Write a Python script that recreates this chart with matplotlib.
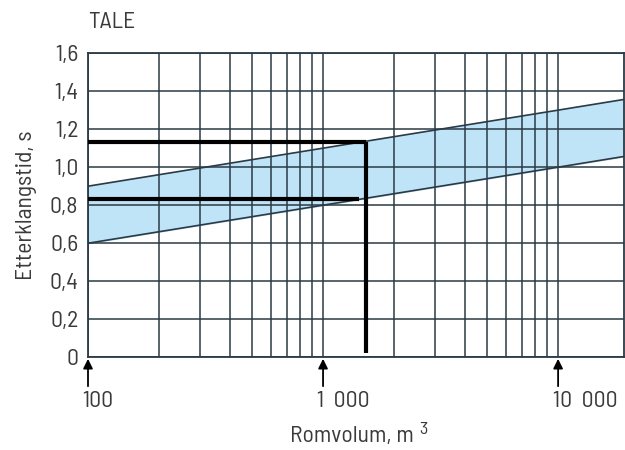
import numpy as np
import matplotlib
matplotlib.use('Agg')
import matplotlib.pyplot as plt
from matplotlib.ticker import FixedLocator, NullFormatter

plt.rcParams['font.family'] = ['Barlow Semi Condensed', 'DejaVu Sans']

# band limits (reverberation time, s) against room volume (m3)
band_volume = [100, 1000, 10000, 19000]
band_lower = [0.6, 0.8, 1.0, 1.056]
band_upper = [0.9, 1.1, 1.3, 1.356]

# hand-drawn reading lines
read_upper_x = [100, 1520]
read_upper_y = [1.13, 1.13]
read_lower_x = [100, 1420]
read_lower_y = [0.83, 0.83]
read_vert_x = [1520, 1520]
read_vert_y = [1.13, 0.02]

x_labels = ['100', '1  000', '10  000']
x_label_pos = [100, 1000, 10000]
y_ticks = [0, 0.2, 0.4, 0.6, 0.8, 1.0, 1.2, 1.4, 1.6]
y_labels = ['0', '0,2', '0,4', '0,6', '0,8', '1,0', '1,2', '1,4', '1,6']

grid_col = '#2b3a44'
text_col = '#3a3a3a'
fsize = 17

fig = plt.figure(figsize=(6.25, 4.5), dpi=100)
ax = fig.add_axes([0.1408, 0.206, 0.857, 0.676])

ax.set_xscale('log')
ax.set_xlim(100, 19000)
ax.set_ylim(0, 1.6)

ax.fill_between(band_volume, band_lower, band_upper, color='#bfe4f8', zorder=1)
ax.plot(band_volume, band_lower, color=grid_col, lw=1.2, zorder=3)
ax.plot(band_volume, band_upper, color=grid_col, lw=1.2, zorder=3)

# log grid
grid_x = list(range(100, 1000, 100)) + list(range(1000, 10001, 1000))
for gx in grid_x:
    ax.axvline(gx, color=grid_col, lw=1.1, zorder=2)
for gy in y_ticks:
    ax.axhline(gy, color=grid_col, lw=1.1, zorder=2)

ax.plot(read_upper_x, read_upper_y, color='black', lw=3, zorder=5, solid_capstyle='butt')
ax.plot(read_lower_x, read_lower_y, color='black', lw=3, zorder=5, solid_capstyle='butt')
ax.plot(read_vert_x, read_vert_y, color='black', lw=3, zorder=5, solid_capstyle='butt')

for sp in ax.spines.values():
    sp.set_color(grid_col)
    sp.set_linewidth(1.3)

ax.xaxis.set_major_locator(FixedLocator([]))
ax.xaxis.set_minor_locator(FixedLocator([]))
ax.xaxis.set_minor_formatter(NullFormatter())
ax.set_yticks(y_ticks)
ax.set_yticklabels(y_labels)
ax.tick_params(axis='y', length=0, pad=7, labelsize=fsize, labelcolor=text_col)

for pos, lab in zip(x_label_pos, x_labels):
    ax.annotate('', xy=(pos, -0.005), xycoords=('data', 'axes fraction'),
                xytext=(pos, -0.095), textcoords=('data', 'axes fraction'),
                arrowprops=dict(arrowstyle='-|>', color='black', lw=1.3,
                                mutation_scale=14, shrinkA=0, shrinkB=0))
    ax.annotate(lab, xy=(pos, -0.145), xycoords=('data', 'axes fraction'),
                xytext=(-4, 0), textcoords='offset points',
                ha='left', va='center', fontsize=fsize, color=text_col)

ax.set_ylabel('Etterklangstid, s', fontsize=fsize, color=text_col, labelpad=9)
fig.text(0.464, 0.029, 'Romvolum, m', ha='left', va='center', fontsize=fsize, color=text_col)
fig.text(0.671, 0.045, '3', ha='left', va='center', fontsize=13, color=text_col)
fig.text(0.141, 0.949, 'TALE', ha='left', va='center', fontsize=fsize, color=text_col)

fig.savefig('out.png', dpi=100)
